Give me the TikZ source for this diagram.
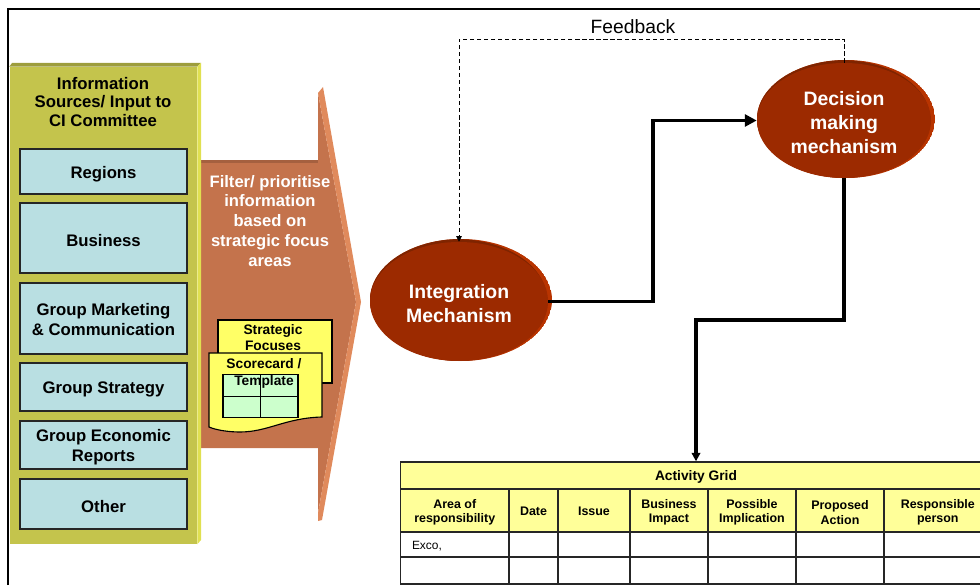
\documentclass[tikz,border=0pt]{standalone}
\usepackage{fontspec}
\setmainfont{Liberation Sans}
\usetikzlibrary{shapes, arrows.meta}
\definecolor{panelfront}{HTML}{C4C44C}
\definecolor{paneltop}{HTML}{9D9D3D}
\definecolor{panelside}{HTML}{E0E050}
\definecolor{sourcefill}{HTML}{B9DFE2}
\definecolor{filterfront}{HTML}{C4734C}
\definecolor{filtertop}{HTML}{A5603F}
\definecolor{filterside}{HTML}{E08A5C}
\definecolor{notefill}{HTML}{FFFF66}
\definecolor{gridfill}{HTML}{CCFFCC}
\definecolor{headfill}{HTML}{FFFF99}
\definecolor{mechfront}{HTML}{9C2A00}
\definecolor{mechtop}{HTML}{7F2400}
\definecolor{mechside}{HTML}{B83400}
\newcommand{\firstline}[1]{\rule{0pt}{#1}}
\tikzstyle{panel} =
        [
                rectangle,
                fill = panelfront,
                inner sep = 0pt
        ]
\tikzstyle{source} =
        [
                rectangle,
                draw = black!85,
                line width = 0.85pt,
                fill = sourcefill,
                minimum width = 4.175cm,
                inner sep = 0pt,
                align = center,
                font = \bfseries\fontsize{11.9}{13.8}\selectfont
        ]
\tikzstyle{note} =
        [
                rectangle,
                draw,
                line width = 0.8pt,
                fill = notefill,
                inner sep = 0pt
        ]
\tikzstyle{notetext} =
        [
                align = center,
                inner sep = 0pt,
                font = \bfseries\fontsize{9.8}{11.6}\selectfont
        ]
\tikzstyle{gridcell} =
        [
                rectangle,
                draw,
                line width = 0.8pt,
                fill = gridfill,
                minimum width = 0.9375cm,
                minimum height = 0.5375cm,
                inner sep = 0pt
        ]
\tikzstyle{mechanism} =
        [
                ellipse,
                fill = mechfront,
                text = white,
                inner sep = 0pt,
                align = center,
                font = \bfseries\fontsize{13.8}{17}\selectfont
        ]
\tikzstyle{head} =
        [
                rectangle,
                draw = black!85,
                line width = 0.95pt,
                fill = headfill,
                minimum height = 1.075cm,
                inner sep = 0pt,
                align = center,
                font = \bfseries\fontsize{8.85}{10.6}\selectfont
        ]
\tikzstyle{cell} =
        [
                rectangle,
                draw = black!85,
                line width = 0.95pt,
                minimum height = 0.625cm,
                inner sep = 0pt
        ]
\tikzstyle{line} =
        [
                draw,
                line width = 2.7pt,
                -{Triangle[length = 8.5pt, width = 8.5pt]}
        ]
\tikzstyle{lineb} =
        [
                draw,
                line width = 2.3pt,
                -{Triangle[length = 6pt, width = 6pt]}
        ]
\tikzstyle{feedback} =
        [
                draw,
                line width = 0.7pt,
                dash pattern = on 3pt off 2pt,
                -{Triangle[length = 4pt, width = 4pt]}
        ]

\begin{document}
\begin{tikzpicture}
        \useasboundingbox (0,0) rectangle (24.5,14.625);

        % frame
        \draw [line width = 1.4pt] (0.2,0) -- (0.2,14.4) -- (24.5,14.4);

        % filter arrow
        \fill [filterfront] (5.025,10.55) -- (7.95,10.55) -- (7.95,12.3) -- (8.9,7.075) -- (7.95,1.8) -- (7.95,3.425) -- (5.025,3.425) -- cycle;
        \fill [filtertop] (5.025,10.625) -- (7.95,10.625) -- (7.95,10.55) -- (5.025,10.55) -- cycle;
        \fill [filterside] (7.95,12.3) -- (8.075,12.45) -- (9.025,7.075) -- (8.05,1.625) -- (7.95,1.6) -- (7.95,1.8) -- (8.9,7.075) -- cycle;
        \node [align = center, inner sep = 0pt, text = white, font = \bfseries\fontsize{11.8}{14.2}\selectfont] (filter) at (6.75,9.1) {Filter/ prioritise\\information\\based on\\strategic focus\\areas};

        % information sources
        \node [panel, minimum width = 4.6875cm, minimum height = 11.925cm] (inputs) at (2.58125,6.9875) {};
        \fill [paneltop] (inputs.north west) -- (0.3,13.05) -- (5.025,13.05) -- (inputs.north east) -- cycle;
        \fill [panelside] (inputs.north east) -- (5.025,13.05) -- (5.025,1.125) -- (inputs.south east) -- cycle;
        \node [align = center, inner sep = 0pt, font = \bfseries\fontsize{11.9}{12.9}\selectfont] (inputstitle) at (2.575,12.075) {Information\\Sources/ Input to\\CI Committee};
        \node [source, minimum height = 1.125cm] (regions) at (2.5875,10.3375) {\firstline{12pt}Regions};
        \node [source, minimum height = 1.75cm, below of = regions, node distance = 1.6625cm] (business) {\firstline{11.5pt}Business};
        \node [source, minimum height = 1.775cm, below of = business, node distance = 2.0125cm] (marketing) {\firstline{10pt}Group Marketing\\\& Communication};
        \node [source, minimum height = 1.2cm, below of = marketing, node distance = 1.7125cm] (strategy) {\firstline{12pt}Group Strategy};
        \node [source, minimum height = 1.2cm, below of = strategy, node distance = 1.45cm] (economic) {\firstline{12pt}Group Economic\\Reports};
        \node [source, minimum height = 1.25cm, below of = economic, node distance = 1.475cm] (other) {\firstline{11.5pt}Other};

        % notes on the arrow
        \node [note, minimum width = 2.85cm, minimum height = 1.575cm] (focuses) at (6.875,5.8375) {};
        \node [notetext] (focusestext) at (6.825,6.19) {Strategic\\Focuses};
        \draw [line width = 0.8pt, fill = notefill] (5.225,5.8) -- (8.05,5.8) -- (8.05,4.2) .. controls (7.125,4.175) and (6.7,3.825) .. (6,3.825) .. controls (5.7,3.825) and (5.4,3.875) .. (5.225,3.95) -- cycle;
        \node [gridcell] (gridA) at (6.04375,4.9875) {};
        \node [gridcell, right of = gridA, node distance = 0.9375cm] (gridB) {};
        \node [gridcell, below of = gridA, node distance = 0.5375cm] (gridC) {};
        \node [gridcell, below of = gridB, node distance = 0.5375cm] (gridD) {};
        \node [notetext, font = \bfseries\fontsize{9.8}{12.4}\selectfont] (scorecard) at (6.6,5.29) {Scorecard /\\Template};

        % mechanisms
        \begin{scope}
                \clip (11.525,7.125) ellipse (2.275cm and 1.525cm);
                \fill [mechside] (11.525,7.125) ellipse (2.275cm and 1.525cm);
                \fill [mechtop] (11.4,7.125) ellipse (2.275cm and 1.525cm);
        \end{scope}
        \node [mechanism, minimum width = 4.45cm, minimum height = 2.975cm] (integration) at (11.475,7.0875) {\firstline{12.7pt}Integration\\Mechanism};
        \begin{scope}
                \clip (21.15,11.65) ellipse (2.225cm and 1.475cm);
                \fill [mechside] (21.15,11.65) ellipse (2.225cm and 1.475cm);
                \fill [mechtop] (21.025,11.65) ellipse (2.225cm and 1.475cm);
        \end{scope}
        \node [mechanism, minimum width = 4.35cm, minimum height = 2.875cm] (decision) at (21.1,11.6125) {\firstline{12.7pt}Decision\\making\\mechanism};

        % activity grid
        \node [rectangle, draw = black!85, line width = 0.95pt, fill = headfill, minimum width = 14.775cm, minimum height = 0.675cm, inner sep = 0pt, font = \bfseries\fontsize{9.8}{11.6}\selectfont] (activity) at (17.4,2.7375) {\firstline{9.8pt}Activity Grid};
        \node [head, minimum width = 2.7125cm] (area) at (11.36875,1.8625) {\firstline{8.9pt}Area of\\responsibility};
        \node [head, minimum width = 1.225cm, right of = area, node distance = 1.96875cm] (date) {\firstline{7.5pt}Date};
        \node [head, minimum width = 1.8cm, right of = date, node distance = 1.5125cm] (issue) {\firstline{7.5pt}Issue};
        \node [head, minimum width = 1.95cm, right of = issue, node distance = 1.875cm] (impact) {\firstline{8.9pt}Business\\Impact};
        \node [head, minimum width = 2.2cm, right of = impact, node distance = 2.075cm] (implication) {\firstline{8.9pt}Possible\\Implication};
        \node [head, minimum width = 2.2cm, right of = implication, node distance = 2.2cm] (action) {\firstline{8.9pt}Proposed\\Action};
        \node [head, minimum width = 2.6875cm, right of = action, node distance = 2.44375cm] (person) {\firstline{8.9pt}Responsible\\person};

        \node [cell, minimum width = 2.7125cm, below of = area, node distance = 0.85cm, text width = 2.1375cm, align = left, font = \fontsize{8.5}{10}\selectfont] (areaA) {\firstline{8.8pt}Exco,};
        \node [cell, minimum width = 1.225cm, below of = date, node distance = 0.85cm] (dateA) {};
        \node [cell, minimum width = 1.8cm, below of = issue, node distance = 0.85cm] (issueA) {};
        \node [cell, minimum width = 1.95cm, below of = impact, node distance = 0.85cm] (impactA) {};
        \node [cell, minimum width = 2.2cm, below of = implication, node distance = 0.85cm] (implicationA) {};
        \node [cell, minimum width = 2.2cm, below of = action, node distance = 0.85cm] (actionA) {};
        \node [cell, minimum width = 2.6875cm, below of = person, node distance = 0.85cm] (personA) {};

        \node [cell, minimum width = 2.7125cm, minimum height = 0.675cm, below of = areaA, node distance = 0.65cm] (areaB) {};
        \node [cell, minimum width = 1.225cm, minimum height = 0.675cm, below of = dateA, node distance = 0.65cm] (dateB) {};
        \node [cell, minimum width = 1.8cm, minimum height = 0.675cm, below of = issueA, node distance = 0.65cm] (issueB) {};
        \node [cell, minimum width = 1.95cm, minimum height = 0.675cm, below of = impactA, node distance = 0.65cm] (impactB) {};
        \node [cell, minimum width = 2.2cm, minimum height = 0.675cm, below of = implicationA, node distance = 0.65cm] (implicationB) {};
        \node [cell, minimum width = 2.2cm, minimum height = 0.675cm, below of = actionA, node distance = 0.65cm] (actionB) {};
        \node [cell, minimum width = 2.6875cm, minimum height = 0.675cm, below of = personA, node distance = 0.65cm] (personB) {};

        % connectors
        \coordinate (rise) at (16.325,9);
        \coordinate (turn) at (17.4,6.625);
        \coordinate (overhead) at (11.475,13.65);
        \path [line] (integration.east) -| (rise) |- (decision.west);
        \path [lineb] (decision.south) |- (turn) -- (activity.north);
        \path [feedback] (decision.north) |- (overhead) -- (integration.north);
        \node [inner sep = 0pt, font = \fontsize{13.7}{16}\selectfont] (feedbacklabel) at (15.825,13.95) {Feedback};
\end{tikzpicture}
\end{document}
